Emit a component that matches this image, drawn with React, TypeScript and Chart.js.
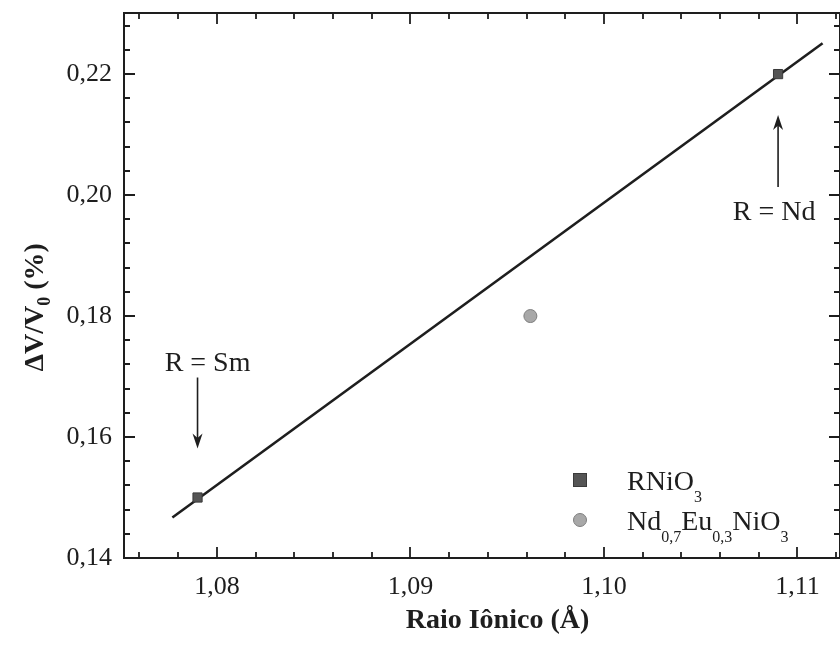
import React, { useEffect, useRef } from "react";
import { Chart, registerables } from "chart.js";

Chart.register(...registerables);

// ---- data ----
const rNiO3X = [1.079, 1.109];
const rNiO3Y = [0.15, 0.22];
const rNiO3Names = ["R = Sm", "R = Nd"];
const ndEuX = [1.0962];
const ndEuY = [0.18];
const fitX = [1.0777, 1.1113];
const fitY = [0.1467, 0.2251];

// ---- axes ----
const xMin = 1.0752;
const xMax = 1.1122;
const yMin = 0.14;
const yMax = 0.2301;
const xMajorTicks = [1.08, 1.09, 1.1, 1.11];
const xTickLabels = ["1,08", "1,09", "1,10", "1,11"];
const yMajorTicks = [0.14, 0.16, 0.18, 0.2, 0.22];
const yTickLabels = ["0,14", "0,16", "0,18", "0,20", "0,22"];
const xMinorTicks = [1.076, 1.078, 1.082, 1.084, 1.086, 1.088, 1.092, 1.094, 1.096, 1.098, 1.102, 1.104, 1.106, 1.108, 1.112];
const yMinorTicks = [0.144, 0.148, 0.152, 0.156, 0.164, 0.168, 0.172, 0.176, 0.184, 0.188, 0.192, 0.196, 0.204, 0.208, 0.212, 0.216, 0.224, 0.228];

type Seg = { t: string; sub?: boolean };
const xTitle: Seg[] = [{ t: "Raio Iônico (Å)" }];
const yTitle: Seg[] = [{ t: "ΔV/V" }, { t: "0", sub: true }, { t: " (%)" }];
const legendRNiO3: Seg[] = [{ t: "RNiO" }, { t: "3", sub: true }];
const legendNdEu: Seg[] = [
  { t: "Nd" }, { t: "0,7", sub: true }, { t: "Eu" }, { t: "0,3", sub: true }, { t: "NiO" }, { t: "3", sub: true },
];

const SERIF = "'Liberation Serif', 'Times New Roman', serif";
const INK = "#1e1e1e";

function segWidth(ctx: CanvasRenderingContext2D, segs: Seg[], size: number, subSize: number, bold: boolean) {
  let w = 0;
  for (const s of segs) {
    ctx.font = `${bold ? "bold " : ""}${s.sub ? subSize : size}px ${SERIF}`;
    w += ctx.measureText(s.t).width;
  }
  return w;
}

function drawRich(
  ctx: CanvasRenderingContext2D, segs: Seg[], x: number, y: number,
  size: number, subSize: number, subDy: number, bold: boolean, align: "left" | "center"
) {
  ctx.save();
  ctx.textBaseline = "alphabetic";
  ctx.textAlign = "left";
  ctx.fillStyle = INK;
  let cx = x;
  if (align === "center") cx = x - segWidth(ctx, segs, size, subSize, bold) / 2;
  for (const s of segs) {
    ctx.font = `${bold ? "bold " : ""}${s.sub ? subSize : size}px ${SERIF}`;
    ctx.fillText(s.t, cx, y + (s.sub ? subDy : 0));
    cx += ctx.measureText(s.t).width;
  }
  ctx.restore();
}

function arrow(ctx: CanvasRenderingContext2D, x: number, yFrom: number, yTo: number) {
  const dir = yTo > yFrom ? 1 : -1;
  const head = 15;
  ctx.save();
  ctx.strokeStyle = INK;
  ctx.fillStyle = INK;
  ctx.lineWidth = 1.6;
  ctx.beginPath();
  ctx.moveTo(x, yFrom);
  ctx.lineTo(x, yTo - dir * head * 0.6);
  ctx.stroke();
  ctx.beginPath();
  ctx.moveTo(x, yTo);
  ctx.lineTo(x - 5, yTo - dir * head);
  ctx.lineTo(x, yTo - dir * head * 0.7);
  ctx.lineTo(x + 5, yTo - dir * head);
  ctx.closePath();
  ctx.fill();
  ctx.restore();
}

const framePlugin = {
  id: "framePlugin",
  afterDatasetsDraw(chart: any) {
    const ctx: CanvasRenderingContext2D = chart.ctx;
    const { left, right, top, bottom } = chart.chartArea;
    const xs = chart.scales.x;
    const ys = chart.scales.y;
    ctx.save();
    ctx.strokeStyle = INK;
    ctx.lineWidth = 2;
    ctx.strokeRect(left, top, right - left, bottom - top);
    ctx.lineWidth = 1.8;
    const tick = (vals: number[], len: number) => {
      for (const v of vals) {
        const px = Math.round(xs.getPixelForValue(v));
        ctx.beginPath();
        ctx.moveTo(px, bottom);
        ctx.lineTo(px, bottom - len);
        ctx.moveTo(px, top);
        ctx.lineTo(px, top + len);
        ctx.stroke();
      }
    };
    const ytick = (vals: number[], len: number) => {
      for (const v of vals) {
        const py = Math.round(ys.getPixelForValue(v));
        ctx.beginPath();
        ctx.moveTo(left, py);
        ctx.lineTo(left + len, py);
        ctx.moveTo(right, py);
        ctx.lineTo(right - len, py);
        ctx.stroke();
      }
    };
    tick(xMajorTicks, 11);
    tick(xMinorTicks, 6);
    ytick(yMajorTicks, 11);
    ytick(yMinorTicks, 6);

    // tick labels from the scales
    ctx.fillStyle = INK;
    ctx.font = `26px ${SERIF}`;
    ctx.textAlign = "center";
    ctx.textBaseline = "alphabetic";
    xMajorTicks.forEach((v, i) => {
      ctx.fillText(xTickLabels[i], xs.getPixelForValue(v), bottom + 36);
    });
    ctx.textAlign = "right";
    ctx.textBaseline = "middle";
    yMajorTicks.forEach((v, i) => {
      ctx.fillText(yTickLabels[i], left - 12, ys.getPixelForValue(v));
    });
    ctx.restore();
  },
  afterDraw(chart: any) {
    const ctx: CanvasRenderingContext2D = chart.ctx;
    const xs = chart.scales.x;
    const ys = chart.scales.y;
    const { top, bottom } = chart.chartArea;

    // axis titles
    drawRich(ctx, xTitle, xs.getPixelForValue(1.0945), bottom + 70, 28, 18, 7, true, "center");
    ctx.save();
    ctx.translate(43, top + (bottom - top) * 0.54);
    ctx.rotate(-Math.PI / 2);
    drawRich(ctx, yTitle, 0, 0, 28, 18, 7, true, "center");
    ctx.restore();

    // annotations with arrows
    const smX = xs.getPixelForValue(rNiO3X[0]);
    const smY = ys.getPixelForValue(rNiO3Y[0]);
    drawRich(ctx, [{ t: rNiO3Names[0] }], smX + 10, smY - 127, 28, 18, 0, false, "center");
    arrow(ctx, smX, smY - 120, smY - 49);
    const ndX = xs.getPixelForValue(rNiO3X[1]);
    const ndY = ys.getPixelForValue(rNiO3Y[1]);
    drawRich(ctx, [{ t: rNiO3Names[1] }], ndX - 4, ndY + 146, 28, 18, 0, false, "center");
    arrow(ctx, ndX, ndY + 113, ndY + 41);

    // legend
    const lx = 580;
    const ly1 = 480;
    const ly2 = 520;
    ctx.save();
    ctx.fillStyle = "#555555";
    ctx.strokeStyle = "#3a3a3a";
    ctx.lineWidth = 1;
    ctx.fillRect(lx - 6.5, ly1 - 6.5, 13, 13);
    ctx.strokeRect(lx - 6.5, ly1 - 6.5, 13, 13);
    ctx.beginPath();
    ctx.arc(lx, ly2, 6.5, 0, Math.PI * 2);
    ctx.fillStyle = "#a8a8a8";
    ctx.strokeStyle = "#7e7e7e";
    ctx.fill();
    ctx.stroke();
    ctx.restore();
    drawRich(ctx, legendRNiO3, 627, ly1 + 10, 28, 16, 12, false, "left");
    drawRich(ctx, legendNdEu, 627, ly2 + 10, 28, 16, 12, false, "left");
  },
};

export default function App() {
  const ref = useRef<HTMLCanvasElement | null>(null);
  useEffect(() => {
    if (!ref.current) return;
    const chart = new Chart(ref.current, {
      type: "scatter",
      data: {
        datasets: [
          {
            type: "line",
            label: "fit",
            data: fitX.map((x, i) => ({ x, y: fitY[i] })),
            borderColor: INK,
            borderWidth: 2.6,
            pointRadius: 0,
            fill: false,
            order: 3,
          } as any,
          {
            label: "RNiO3",
            data: rNiO3X.map((x, i) => ({ x, y: rNiO3Y[i] })),
            pointStyle: "rect",
            pointRadius: 6.5,
            backgroundColor: "#555555",
            borderColor: "#3a3a3a",
            borderWidth: 1,
            order: 1,
          },
          {
            label: "Nd0,7Eu0,3NiO3",
            data: ndEuX.map((x, i) => ({ x, y: ndEuY[i] })),
            pointStyle: "circle",
            pointRadius: 6.5,
            backgroundColor: "#a8a8a8",
            borderColor: "#7e7e7e",
            borderWidth: 1,
            order: 1,
          },
        ],
      },
      options: {
        responsive: false,
        animation: false,
        devicePixelRatio: 1,
        layout: { autoPadding: false, padding: { left: 124, right: 0, top: 13, bottom: 88 } },
        plugins: { legend: { display: false }, tooltip: { enabled: false } },
        scales: {
          x: { type: "linear", min: xMin, max: xMax, display: false },
          y: { type: "linear", min: yMin, max: yMax, display: false },
        },
      },
      plugins: [framePlugin],
    } as any);
    return () => chart.destroy();
  }, []);
  return (
    <div style={{ position: "absolute", left: 0, top: 0, width: 840, height: 646, background: "#fff" }}>
      <canvas ref={ref} width={840} height={646} />
    </div>
  );
}
